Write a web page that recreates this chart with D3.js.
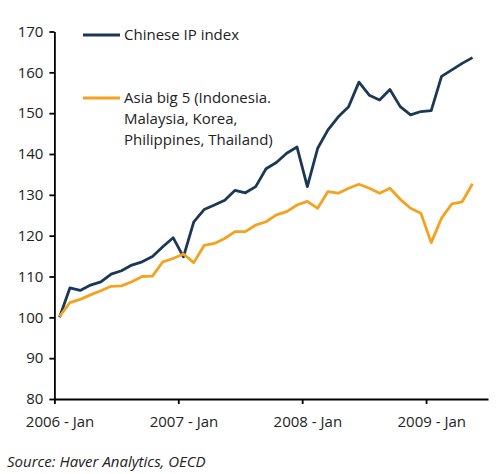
<!DOCTYPE html>
<html>
<head>
<meta charset="utf-8">
<script src="https://cdn.jsdelivr.net/npm/d3@7"></script>
<style>
  body { margin: 0; background: #fff; }
  text { font-family: "Open Sans", sans-serif; fill: #222; }
  .axis path, .axis line { stroke: #000; stroke-width: 1.8px; }
  .axis text { font-size: 15px; }
</style>
</head>
<body>
<div id="chart"></div>
<script>
// monthly index, 2006 Jan = 100
var chineseIP = [100, 107.2, 106.6, 107.9, 108.7, 110.6, 111.4, 112.8, 113.6, 114.9,
    117.3, 119.5, 114.8, 123.4, 126.4, 127.5, 128.7, 131.1, 130.5, 132,
    136.4, 137.9, 140.2, 141.7, 132, 141.4, 145.9, 149.1, 151.6, 157.6,
    154.4, 153.2, 155.8, 151.6, 149.6, 150.4, 150.6, 159, 160.6, 162.2, 163.6];

var asiaBig5 = [100.2, 103.6, 104.4, 105.5, 106.5, 107.6, 107.7, 108.7, 110, 110.1,
    113.6, 114.4, 115.5, 113.4, 117.6, 118.1, 119.3, 121, 121, 122.6,
    123.4, 125.1, 125.9, 127.5, 128.4, 126.7, 130.8, 130.4, 131.6, 132.6,
    131.6, 130.4, 131.6, 128.9, 126.7, 125.5, 118.3, 124.3, 127.8, 128.3, 132.7];

var nMonths = 42; // 2006 Jan .. 2009 Jun on the category axis
var yTicks = [80, 90, 100, 110, 120, 130, 140, 150, 160, 170];
var xTickMonths = [0, 12, 24, 36];
var xTickLabels = ["2006 - Jan", "2007 - Jan", "2008 - Jan", "2009 - Jan"];

var seriesNames = ["Chinese IP index", "Asia big 5 (Indonesia.|Malaysia, Korea,|Philippines, Thailand)"];
var seriesColours = ["#1b3856", "#f4a21f"];

var width = 500, height = 474;

var svg = d3.select("#chart")
    .append("svg")
    .attr("width", width)
    .attr("height", height);

var x_scale = d3.scaleLinear()
    .domain([-0.5, nMonths - 0.5])
    .range([54.4, 488]);

var y_scale = d3.scaleLinear()
    .domain([80, 170])
    .range([399, 31.5]);

var halfStep = (x_scale(1) - x_scale(0)) / 2;

var line = d3.line()
    .x(function(d, i) { return x_scale(i); })
    .y(function(d) { return y_scale(d); });

// y axis
svg.append("g")
    .attr("class", "axis y")
    .attr("transform", "translate(" + x_scale(-0.5) + ",0)")
    .call(d3.axisLeft(y_scale)
        .tickValues(yTicks)
        .tickSize(5)
        .tickSizeOuter(0)
        .tickPadding(6));

// x axis: ticks sit between categories, labels on the category
svg.append("g")
    .attr("class", "axis x")
    .attr("transform", "translate(0," + y_scale(80) + ")")
    .call(d3.axisBottom(x_scale)
        .tickValues(xTickMonths.map(function(m) { return m - 0.5; }))
        .tickFormat(function(d, i) { return xTickLabels[i]; })
        .tickSize(5)
        .tickSizeOuter(0)
        .tickPadding(12))
    .selectAll("text")
    .attr("x", halfStep);

svg.selectAll(".series")
    .data([chineseIP, asiaBig5])
    .enter()
    .append("path")
    .attr("class", "series")
    .attr("d", function(d) { return line(d); })
    .attr("fill", "none")
    .attr("stroke", function(d, i) { return seriesColours[i]; })
    .attr("stroke-width", 2.8)
    .attr("stroke-linejoin", "round");

// legend
var legendY = [35, 98];

var legend = svg.selectAll(".legend")
    .data(seriesNames)
    .enter()
    .append("g")
    .attr("class", "legend")
    .attr("transform", function(d, i) { return "translate(0," + legendY[i] + ")"; });

legend.append("line")
    .attr("x1", 83)
    .attr("x2", 120)
    .attr("stroke", function(d, i) { return seriesColours[i]; })
    .attr("stroke-width", 3);

legend.append("text")
    .attr("x", 124)
    .attr("y", 5)
    .style("font-size", "15px")
    .selectAll("tspan")
    .data(function(d) { return d.split("|"); })
    .enter()
    .append("tspan")
    .attr("x", 124)
    .attr("dy", function(d, i) { return i === 0 ? 0 : 21; })
    .text(function(d) { return d; });

svg.append("text")
    .attr("x", 7)
    .attr("y", 467)
    .style("font-size", "15px")
    .style("font-style", "italic")
    .text("Source: Haver Analytics, OECD");
</script>
</body>
</html>
